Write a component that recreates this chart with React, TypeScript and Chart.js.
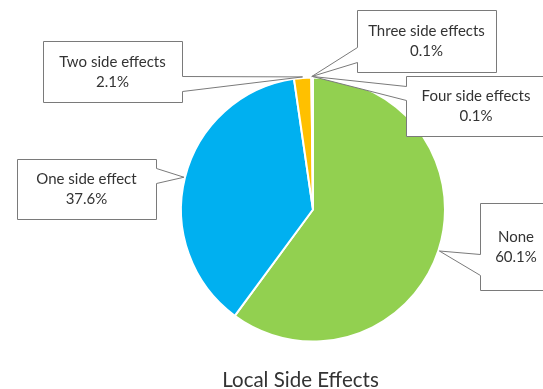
import React, { useEffect, useRef } from 'react';
import { Chart, registerables } from 'chart.js';

Chart.register(...registerables);

const labels = ['None', 'One side effect', 'Two side effects', 'Three side effects', 'Four side effects'];
const values = [60.1, 37.6, 2.1, 0.1, 0.1];
const colors = ['#92D050', '#00B0F0', '#FFC000', '#A5A5A5', '#5B9BD5'];
const chartTitle = 'Local Side Effects';

// callout box layout (pixel boxes and pointer base positions)
const calloutLayout = [
  { x: 480, y: 203, w: 72, h: 87, side: 'left', p1: 254, p2: 275 },
  { x: 17, y: 159, w: 139, h: 60, side: 'right', p1: 168, p2: 183 },
  { x: 43, y: 41, w: 139, h: 61, side: 'right', p1: 76, p2: 91 },
  { x: 357, y: 10, w: 139, h: 62, side: 'left', p1: 47, p2: 62 },
  { x: 406, y: 76, w: 140, h: 60, side: 'left', p1: 86, p2: 100 },
];

const calloutPlugin = {
  id: 'callouts',
  afterDraw(chart: any) {
    const ctx = chart.ctx;
    const meta = chart.getDatasetMeta(0);
    const order = [0, 1, 2, 3, 4];
    ctx.save();
    order.forEach((i) => {
      const arc = meta.data[i];
      if (!arc) return;
      const p = arc.getProps(['x', 'y', 'startAngle', 'endAngle', 'outerRadius'], true);
      const mid = (p.startAngle + p.endAngle) / 2;
      const tx = p.x + Math.cos(mid) * (p.outerRadius + 1);
      const ty = p.y + Math.sin(mid) * (p.outerRadius + 1);
      const b = calloutLayout[i];
      const x0 = b.x + 0.5, y0 = b.y + 0.5, x1 = b.x + b.w + 0.5, y1 = b.y + b.h + 0.5;
      ctx.beginPath();
      if (b.side === 'right') {
        ctx.moveTo(x0, y0);
        ctx.lineTo(x1, y0);
        ctx.lineTo(x1, b.p1 + 0.5);
        ctx.lineTo(tx, ty);
        ctx.lineTo(x1, b.p2 + 0.5);
        ctx.lineTo(x1, y1);
        ctx.lineTo(x0, y1);
      } else {
        ctx.moveTo(x0, y0);
        ctx.lineTo(x1, y0);
        ctx.lineTo(x1, y1);
        ctx.lineTo(x0, y1);
        ctx.lineTo(x0, b.p2 + 0.5);
        ctx.lineTo(tx, ty);
        ctx.lineTo(x0, b.p1 + 0.5);
      }
      ctx.closePath();
      ctx.fillStyle = '#ffffff';
      ctx.fill();
      ctx.strokeStyle = '#7a7a7a';
      ctx.lineWidth = 1;
      ctx.stroke();

      const cx = b.x + b.w / 2;
      const cy = b.y + b.h / 2;
      ctx.fillStyle = '#333333';
      ctx.font = '15px Lato, "Open Sans", sans-serif';
      ctx.textAlign = 'center';
      ctx.textBaseline = 'middle';
      ctx.fillText(labels[i], cx, cy - 9.5);
      ctx.fillText(values[i].toFixed(1) + '%', cx, cy + 10.5);
    });

    ctx.fillStyle = '#333333';
    ctx.font = '20.5px Lato, "Open Sans", sans-serif';
    ctx.textAlign = 'center';
    ctx.textBaseline = 'alphabetic';
    ctx.fillText(chartTitle, 300.5, 387);
    ctx.restore();
  },
};

export default function App() {
  const ref = useRef<HTMLCanvasElement | null>(null);
  useEffect(() => {
    document.body.style.margin = '0';
    const canvas = ref.current;
    if (!canvas) return;
    const chart = new Chart(canvas, {
      type: 'pie',
      data: {
        labels,
        datasets: [
          {
            data: values,
            backgroundColor: colors,
            borderColor: '#ffffff',
            borderWidth: 2,
          },
        ],
      },
      options: {
        responsive: false,
        animation: false,
        devicePixelRatio: 1,
        layout: { padding: { left: 180, right: 97, top: 76, bottom: 46 } },
        plugins: {
          legend: { display: false },
          tooltip: { enabled: false },
          title: { display: false },
        },
      },
      plugins: [calloutPlugin],
    });
    return () => chart.destroy();
  }, []);
  return (
    <div style={{ width: 543, height: 389, background: '#ffffff' }}>
      <canvas ref={ref} width={543} height={389} style={{ display: 'block' }} />
    </div>
  );
}
